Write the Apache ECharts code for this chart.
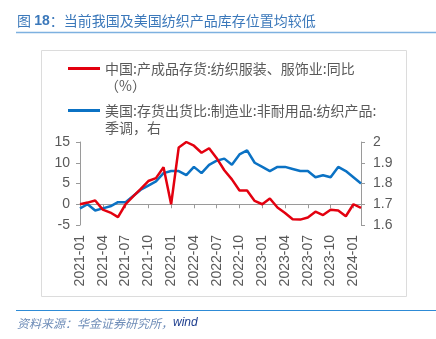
<!DOCTYPE html>
<html>
<head>
<meta charset="utf-8">
<script src="https://cdn.jsdelivr.net/npm/echarts@6/dist/echarts.min.js"></script>
<style>
  html, body { margin: 0; padding: 0; background: #ffffff; }
  #chart { width: 436px; height: 339px; }
</style>
</head>
<body>
<div id="chart"></div>
<script>
// Monthly categories, 2021-01 .. 2024-02
const months = [
  '2021-01','2021-02','2021-03','2021-04','2021-05','2021-06','2021-07','2021-08','2021-09','2021-10','2021-11','2021-12',
  '2022-01','2022-02','2022-03','2022-04','2022-05','2022-06','2022-07','2022-08','2022-09','2022-10','2022-11','2022-12',
  '2023-01','2023-02','2023-03','2023-04','2023-05','2023-06','2023-07','2023-08','2023-09','2023-10','2023-11','2023-12',
  '2024-01','2024-02'
];

// China: finished-goods inventory, textiles & apparel, YoY (%), left axis
const chinaInventoryYoY = [
  0.0, 0.4, 0.9, -1.3, -2.0, -3.1, 0.0, 1.9, 3.7, 5.6, 6.3, 8.9,
  0.0, 13.7, 15.0, 14.1, 12.4, 13.5, 11.1, 8.2, 6.0, 3.3, 3.3, 0.8,
  0.0, 1.4, -0.8, -2.1, -3.6, -3.7, -3.2, -1.8, -2.6, -1.3, -1.5, -2.9,
  0.0, -0.9
];

// US: inventory/shipments ratio, nondurable manufacturing, textile products, SA (right axis)
const usInventoryRatio = [
  1.68, 1.70, 1.67, 1.68, 1.69, 1.71, 1.71, 1.74, 1.77, 1.79, 1.81, 1.85,
  1.86, 1.86, 1.84, 1.88, 1.85, 1.89, 1.91, 1.92, 1.89, 1.94, 1.96, 1.90,
  1.88, 1.86, 1.88, 1.88, 1.87, 1.86, 1.86, 1.83, 1.84, 1.83, 1.88, 1.86,
  1.83, 1.80
];

const seriesNames = [
  '中国:产成品存货:纺织服装、服饰业:同比（%）',
  '美国:存货出货比:制造业:非耐用品:纺织产品:季调，右'
];
const legendLines = [
  ['中国:产成品存货:纺织服装、服饰业:同比', '（%）'],
  ['美国:存货出货比:制造业:非耐用品:纺织产品:', '季调，右']
];

const titleText = '当前我国及美国纺织产品库存位置均较低';
const sourceText = '资料来源：华金证券研究所，';

const RED = '#E3000F';
const BLUE = '#0B72C4';
const AXIS = '#9a9a9a';
const LABEL = '#595959';
const FONT = "'Liberation Sans', Arial, 'Noto Sans CJK SC', sans-serif";
const CJK = "'Noto Sans CJK SC', 'Liberation Sans', sans-serif";

const chart = echarts.init(document.getElementById('chart'), null, { renderer: 'canvas' });

// Each legend entry is its own block; a leading blank line keeps the
// colour key level with the first line of its two-line label.
function legendBlock(idx, top, color) {
  return {
    data: [seriesNames[idx]],
    left: 68,
    top: top,
    orient: 'vertical',
    padding: 0,
    icon: 'rect',
    itemWidth: 32,
    itemHeight: 3,
    itemStyle: { color: color, borderWidth: 0 },
    selectedMode: false,
    formatter: function () { return '\n' + legendLines[idx].join('\n'); },
    textStyle: {
      fontFamily: CJK,
      fontSize: 14,
      color: LABEL,
      lineHeight: 17
    }
  };
}

const option = {
  backgroundColor: '#ffffff',
  animation: false,
  graphic: [
    {
      type: 'text', left: 17, top: 14,
      style: {
        text: '{a|图 }{b|18}{a|：' + titleText + '}',
        rich: {
          a: { fontFamily: CJK, fontSize: 14, fill: '#3B78BA' },
          b: { fontFamily: FONT, fontSize: 14, fontWeight: 'bold', fill: '#3B78BA' }
        }
      }
    },
    { type: 'line', shape: { x1: 16, y1: 32.5, x2: 436, y2: 32.5 }, style: { stroke: '#7DB1E0', lineWidth: 1.5 } },
    { type: 'rect', shape: { x: 41.5, y: 50.5, width: 365, height: 246 }, style: { fill: 'none', stroke: '#dcdcdc', lineWidth: 1 } },
    { type: 'line', shape: { x1: 16, y1: 310.5, x2: 436, y2: 310.5 }, style: { stroke: '#2E8BD6', lineWidth: 1.2 } },
    {
      type: 'text', left: 17, top: 317,
      style: {
        text: '{a|' + sourceText + '}{b|wind}',
        rich: {
          a: { fontFamily: CJK, fontSize: 12, fontStyle: 'italic', fill: '#6F8DB8' },
          b: { fontFamily: FONT, fontSize: 12, fontStyle: 'italic', fill: '#1F3F8F' }
        }
      }
    }
  ],
  legend: [
    legendBlock(0, 43, RED),
    legendBlock(1, 85, BLUE)
  ],
  grid: { left: 80, right: 75, top: 142, bottom: 114, containLabel: false },
  xAxis: [
    {
      type: 'category',
      data: months,
      boundaryGap: false,
      axisLine: { onZero: true, lineStyle: { color: AXIS, width: 1 } },
      axisTick: { show: true, interval: 2, length: 4, lineStyle: { color: AXIS } },
      axisLabel: { show: false },
      splitLine: { show: false }
    },
    {
      type: 'category',
      data: months,
      boundaryGap: false,
      position: 'bottom',
      axisLine: { show: false, onZero: false },
      axisTick: { show: false },
      axisLabel: {
        show: true, interval: 2, rotate: 90, margin: 10,
        fontFamily: FONT, fontSize: 14, color: LABEL
      },
      splitLine: { show: false }
    }
  ],
  yAxis: [
    {
      type: 'value', min: -5, max: 15, interval: 5,
      axisLine: { show: true, lineStyle: { color: AXIS } },
      axisTick: { show: true, length: 4, lineStyle: { color: AXIS } },
      axisLabel: { fontFamily: FONT, fontSize: 14, color: LABEL, margin: 10 },
      splitLine: { show: false }
    },
    {
      type: 'value', min: 1.6, max: 2.0, interval: 0.1, position: 'right',
      axisLine: { show: true, lineStyle: { color: AXIS } },
      axisTick: { show: true, length: 4, lineStyle: { color: AXIS } },
      axisLabel: {
        fontFamily: FONT, fontSize: 14, color: LABEL, margin: 12,
        formatter: function (v) { return String(Math.round(v * 10) / 10); }
      },
      splitLine: { show: false }
    }
  ],
  series: [
    {
      name: seriesNames[0], type: 'line', data: chinaInventoryYoY,
      xAxisIndex: 0, yAxisIndex: 0,
      showSymbol: false, symbol: 'none',
      lineStyle: { color: RED, width: 2.5 }, itemStyle: { color: RED }, z: 3
    },
    {
      name: seriesNames[1], type: 'line', data: usInventoryRatio,
      xAxisIndex: 0, yAxisIndex: 1,
      showSymbol: false, symbol: 'none',
      lineStyle: { color: BLUE, width: 2.5 }, itemStyle: { color: BLUE }, z: 2
    }
  ]
};

chart.setOption(option);
</script>
</body>
</html>
